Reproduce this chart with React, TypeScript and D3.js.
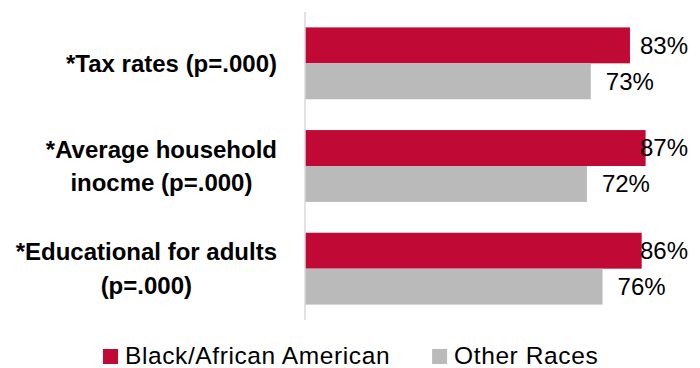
import React, { useEffect, useRef } from "react";
import * as d3 from "d3";

const categories = [
  "*Tax rates (p=.000)",
  "*Average household inocme (p=.000)",
  "*Educational for adults (p=.000)",
];
const seriesNames = ["Black/African American", "Other Races"];
const blackValues = [0.83, 0.87, 0.86];
const otherValues = [0.73, 0.72, 0.76];
const colors = ["#C00A35", "#B9BAB9"];

const W = 700;
const H = 368;
const FONT = "'Liberation Sans', Arial, sans-serif";

export default function App() {
  const ref = useRef<SVGSVGElement | null>(null);

  useEffect(() => {
    const svg = d3.select(ref.current);
    svg.selectAll("*").remove();

    const x0 = 305;
    const x = d3.scaleLinear().domain([0, 1]).range([x0, 696.5]);
    const y = d3
      .scaleBand<string>()
      .domain(categories)
      .range([12, 320])
      .paddingInner(0.3)
      .paddingOuter(0.15);
    const ySub = d3
      .scaleBand<string>()
      .domain(seriesNames)
      .range([0, y.bandwidth()]);

    const series = [blackValues, otherValues];
    const plotRight = 688;

    // bars
    series.forEach((vals, si) => {
      const g = svg.append("g");
      categories.forEach((c, i) => {
        const yy = (y(c) as number) + (ySub(seriesNames[si]) as number);
        g.append("rect")
          .attr("x", x(0))
          .attr("y", yy)
          .attr("width", x(vals[i]) - x(0))
          .attr("height", ySub.bandwidth())
          .attr("fill", colors[si]);
      });
    });

    // axis line
    svg
      .append("line")
      .attr("x1", x0)
      .attr("x2", x0)
      .attr("y1", y.range()[0])
      .attr("y2", y.range()[1])
      .attr("stroke", "#D9D9D9")
      .attr("stroke-width", 1.5);

    // value labels
    series.forEach((vals, si) => {
      categories.forEach((c, i) => {
        const yy =
          (y(c) as number) + (ySub(seriesNames[si]) as number) + ySub.bandwidth() / 2;
        const t = svg
          .append("text")
          .attr("y", yy)
          .attr("dy", "0.35em")
          .attr("font-family", FONT)
          .attr("font-size", 24)
          .attr("fill", "#000")
          .text(d3.format(".0%")(vals[i]));
        const w = (t.node() as SVGTextElement).getComputedTextLength();
        t.attr("x", Math.min(x(vals[i]) + 15, plotRight - w));
      });
    });

    // category labels (wrapped, centered block right-aligned at 277)
    const maxW = 270;
    const lineH = 33.5;
    categories.forEach((c) => {
      const words = c.split(" ");
      const measure = svg
        .append("text")
        .attr("font-family", FONT)
        .attr("font-size", 24)
        .attr("font-weight", "bold");
      const lines: string[] = [];
      let cur = "";
      words.forEach((wd) => {
        const test = cur ? cur + " " + wd : wd;
        measure.text(test);
        if ((measure.node() as SVGTextElement).getComputedTextLength() > maxW && cur) {
          lines.push(cur);
          cur = wd;
        } else cur = test;
      });
      if (cur) lines.push(cur);
      const widths = lines.map((l) => {
        measure.text(l);
        return (measure.node() as SVGTextElement).getComputedTextLength();
      });
      measure.remove();
      const blockW = Math.max(...widths);
      const right = 277;
      const cx = right - blockW / 2;
      const cy = (y(c) as number) + y.bandwidth() / 2;
      lines.forEach((l, li) => {
        svg
          .append("text")
          .attr("x", cx)
          .attr("y", cy + (li - (lines.length - 1) / 2) * lineH)
          .attr("dy", "0.35em")
          .attr("text-anchor", "middle")
          .attr("font-family", FONT)
          .attr("font-size", 24)
          .attr("font-weight", "bold")
          .attr("fill", "#000")
          .text(l);
      });
    });

    // legend
    let lx = 103;
    const baseline = 364;
    seriesNames.forEach((s, si) => {
      svg
        .append("rect")
        .attr("x", lx)
        .attr("y", 349)
        .attr("width", 15)
        .attr("height", 15)
        .attr("fill", colors[si]);
      const t = svg
        .append("text")
        .attr("x", lx + 22)
        .attr("y", baseline)
        .attr("font-family", FONT)
        .attr("font-size", 24.5)
        .attr("letter-spacing", 0.6)
        .attr("fill", "#000")
        .text(s);
      const w = (t.node() as SVGTextElement).getComputedTextLength();
      lx = lx + 22 + w + 42;
    });
  }, []);

  return (
    <svg
      ref={ref}
      width={W}
      height={H}
      style={{ position: "absolute", left: 0, top: 0, display: "block", background: "#fff" }}
    />
  );
}
